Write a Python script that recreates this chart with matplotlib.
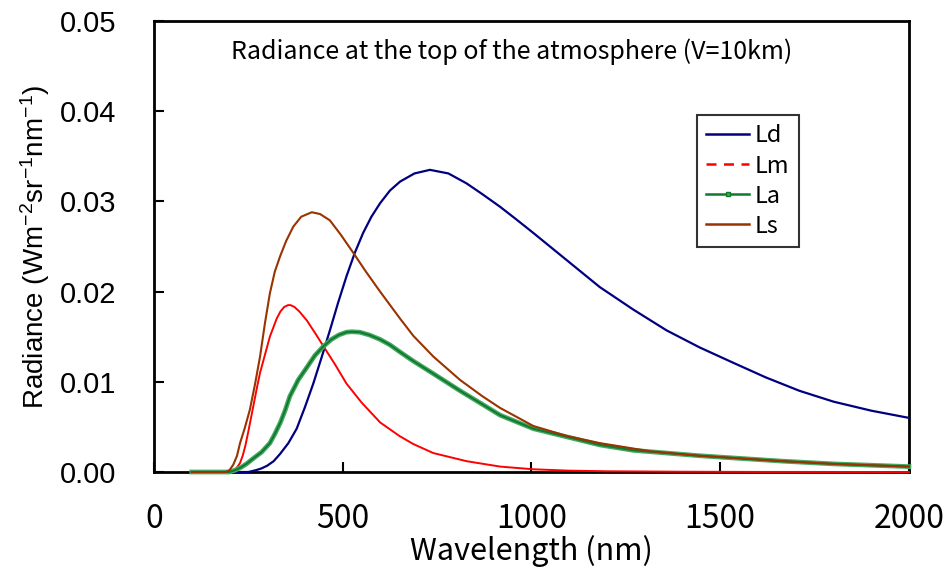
import matplotlib
matplotlib.use("Agg")
import matplotlib.pyplot as plt
from matplotlib.lines import Line2D

# Values (wavelength in nm, radiance in W m-2 sr-1 nm-1)
LD_WL = [100, 250, 270, 285, 300, 317, 334, 356, 378, 400, 422, 444, 466, 488,
         510, 532, 554, 576, 599, 625, 652, 690, 731, 780, 828, 870, 917, 960,
         1005, 1093, 1181, 1270, 1358, 1446, 1535, 1620, 1710, 1800, 1900, 2000]
LD = [0, 0, 0.0002, 0.0004, 0.0007, 0.0012, 0.0020, 0.0032, 0.0048, 0.0072,
      0.0098, 0.0127, 0.0157, 0.0188, 0.0217, 0.0243, 0.0265, 0.0283, 0.0298,
      0.0312, 0.0322, 0.0331, 0.0335, 0.0331, 0.0320, 0.0308, 0.0294, 0.0280,
      0.0265, 0.0235, 0.0205, 0.0180, 0.0157, 0.0138, 0.0121, 0.0105, 0.0090,
      0.0078, 0.0068, 0.0060]

LM_WL = [100, 205, 220, 228, 235, 242, 250, 258, 265, 273, 281, 294, 307, 325,
         335, 345, 355, 362, 372, 385, 395, 405, 430, 448, 480, 510, 550, 599,
         650, 687, 740, 828, 917, 1005, 1100, 1200, 1400, 1600, 2000]
LM = [0, 0, 0.0005, 0.0010, 0.0018, 0.0029, 0.0045, 0.0062, 0.0077, 0.0094,
      0.0110, 0.0130, 0.0150, 0.0170, 0.0178, 0.0183, 0.0185, 0.0185, 0.0183,
      0.0178, 0.0173, 0.0168, 0.0152, 0.0140, 0.0119, 0.0098, 0.0077, 0.0055,
      0.0040, 0.0031, 0.0021, 0.0012, 0.0006, 0.0003, 0.00015, 0.00008,
      0.00003, 0.00001, 0]

LA_WL = [100, 200, 215, 230, 245, 263, 285, 307, 320, 335, 348, 360, 382, 405,
         426, 448, 470, 490, 510, 524, 545, 570, 599, 625, 652, 687, 740, 811,
         870, 917, 1005, 1093, 1181, 1270, 1446, 1666, 1800, 2000]
LA = [0, 0, 0.0002, 0.0005, 0.0009, 0.0015, 0.0022, 0.0032, 0.0042, 0.0055,
      0.0069, 0.0084, 0.0102, 0.0116, 0.0129, 0.0139, 0.0147, 0.0152, 0.0155,
      0.01555, 0.0155, 0.0152, 0.0147, 0.0141, 0.0133, 0.0123, 0.0109, 0.0090,
      0.0075, 0.0063, 0.0048, 0.0039, 0.0030, 0.0024, 0.0018, 0.0012, 0.0009,
      0.0006]

LS_WL = [100, 190, 200, 210, 220, 228, 240, 254, 268, 281, 294, 307, 320, 334,
         350, 369, 390, 418, 440, 466, 495, 528, 560, 599, 652, 687, 740, 811,
         870, 917, 1005, 1093, 1181, 1314, 1446, 1666, 1800, 2000]
LS = [0, 0, 0.0002, 0.0008, 0.0018, 0.0032, 0.0048, 0.0069, 0.0098, 0.0128,
      0.0165, 0.0198, 0.0222, 0.0239, 0.0256, 0.0272, 0.0283, 0.0288, 0.0286,
      0.0279, 0.0263, 0.0243, 0.0223, 0.0200, 0.0170, 0.0151, 0.0128, 0.0102,
      0.0084, 0.0071, 0.0051, 0.0040, 0.0032, 0.0023, 0.0018, 0.0012, 0.0009,
      0.0006]

X_TICKS = [0, 500, 1000, 1500, 2000]
Y_TICKS = [0.00, 0.01, 0.02, 0.03, 0.04, 0.05]

C_LD = "#000080"
C_LM = "#ff0000"
C_LA = "#0f7a2d"
C_LA_EDGE = "#45a862"
C_LS = "#993300"

GOTHIC = ["Noto Sans CJK JP", "DejaVu Sans"]
ARIAL = ["Liberation Sans", "DejaVu Sans"]

plt.rcParams["mathtext.default"] = "regular"

fig = plt.figure(figsize=(9.44, 5.79), dpi=100)
ax = fig.add_axes([0.1631, 0.1848, 0.7998, 0.7789])

# series order as in the original: later ones sit on top
ax.plot(LD_WL, LD, color=C_LD, lw=1.6, zorder=3.0, clip_on=False)
ax.plot(LM_WL, LM, color=C_LM, lw=1.4, zorder=3.1, clip_on=False)
ax.plot(LA_WL, LA, color=C_LA_EDGE, lw=3.4, zorder=3.2, clip_on=False)
ax.plot(LA_WL, LA, color=C_LA, lw=1.4, zorder=3.2, clip_on=False)
ax.plot(LS_WL, LS, color=C_LS, lw=1.5, zorder=3.3, clip_on=False)

ax.set_xlim(0, 2000)
ax.set_ylim(0, 0.05)
ax.set_xticks(X_TICKS)
ax.set_yticks(Y_TICKS)
ax.set_yticklabels([f"{v:.2f}" for v in Y_TICKS], family=ARIAL, fontsize=21)
ax.set_xticklabels([str(v) for v in X_TICKS], family=GOTHIC, fontsize=23)
ax.tick_params(direction="in", length=7, width=1.5)
ax.tick_params(axis="y", pad=27)
ax.tick_params(axis="x", pad=22)
for sp in ax.spines.values():
    sp.set_linewidth(2)

ax.set_xlabel("Wavelength (nm)", family=GOTHIC, fontsize=22, labelpad=0)
ax.set_ylabel("Radiance (Wm$^{-2}$sr$^{-1}$nm$^{-1}$)", family=ARIAL,
              fontsize=20, labelpad=6)

ax.text(0.474, 0.932, "Radiance at the top of the atmosphere (V=10km)",
        transform=ax.transAxes, ha="center", va="center",
        family=GOTHIC, fontsize=18)

handles = [
    Line2D([], [], color=C_LD, lw=1.8),
    Line2D([], [], color=C_LM, lw=1.8, ls=(0, (4, 3))),
    Line2D([], [], color=C_LA, lw=1.8, marker="s", markersize=3.5,
           markerfacecolor=C_LA_EDGE, markeredgecolor=C_LA),
    Line2D([], [], color=C_LS, lw=1.8),
]
leg = ax.legend(handles, ["Ld", "Lm", "La", "Ls"], loc="upper left",
                bbox_to_anchor=(0.719, 0.7916), borderaxespad=0,
                frameon=True, fancybox=False, shadow=False,
                handlelength=1.8, handletextpad=0.25, labelspacing=0.3,
                borderpad=0.4, prop={"family": GOTHIC, "size": 17})
leg.get_frame().set_edgecolor("black")
leg.get_frame().set_linewidth(1.5)

fig.savefig("out.png", dpi=100)
